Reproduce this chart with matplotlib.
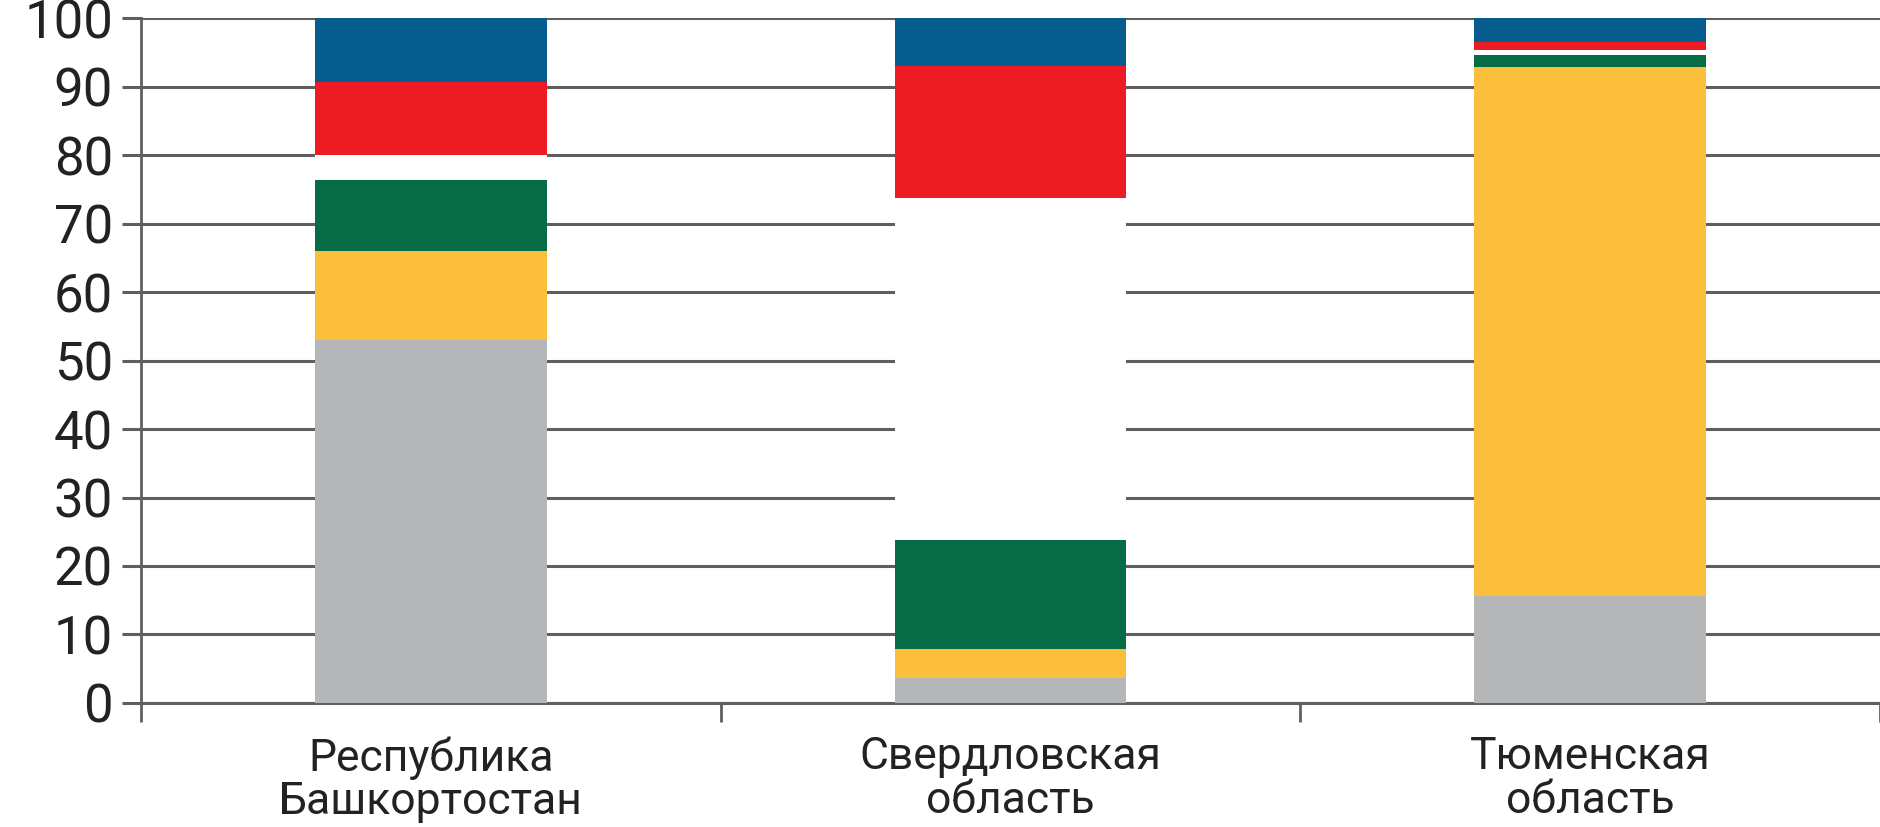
import matplotlib
matplotlib.use('Agg')
import matplotlib.pyplot as plt
import numpy as np

plt.rcParams['font.family'] = ['Roboto', 'DejaVu Sans']

regions = ['Республика\nБашкортостан', 'Свердловская\nобласть', 'Тюменская\nобласть']
# stacked shares, %, bottom to top
grey = [53.0, 3.7, 15.6]
yellow = [13.0, 4.2, 77.2]
green = [10.4, 15.9, 1.8]
other = [3.6, 49.9, 0.7]      # drawn white
red = [10.7, 19.3, 1.2]
blue = [9.3, 7.0, 3.5]

series = [grey, yellow, green, other, red, blue]
colors = ['#b5b6b8', '#fbbf3c', '#056c45', '#ffffff', '#ed1c24', '#045d8c']

fig = plt.figure(figsize=(18.8, 8.27), dpi=100)
ax = fig.add_axes([0.075, 0.15, 0.925, 0.828])

x = np.arange(len(regions))
bottom = np.zeros(len(regions))
for vals, c in zip(series, colors):
    ax.bar(x, vals, bottom=bottom, width=0.40, color=c, zorder=3, linewidth=0)
    bottom += np.array(vals)

ax.set_xlim(-0.5, 2.5)
ax.set_ylim(0, 100)
ax.set_yticks(np.arange(0, 101, 10))
ax.yaxis.grid(True, color='#5f5f5f', linewidth=2.2, zorder=1)
ax.set_axisbelow(True)

for s in ['top', 'right']:
    ax.spines[s].set_visible(False)
ax.spines['left'].set_color('#5f5f5f')
ax.spines['left'].set_linewidth(2)
ax.spines['bottom'].set_color('#5f5f5f')
ax.spines['bottom'].set_linewidth(2.2)

ax.tick_params(axis='y', length=14, width=2.2, color='#5f5f5f', labelsize=38,
               labelcolor='#222222', pad=6)
ax.set_xticks(x)
ax.set_xticklabels(regions, fontsize=32, color='#222222', linespacing=1.05)
ax.tick_params(axis='x', which='major', length=0, pad=24)
ax.set_xticks([-0.5, 0.5, 1.5, 2.5], minor=True)
ax.tick_params(axis='x', which='minor', length=14, width=2, color='#5f5f5f')

fig.savefig('out.png', dpi=100)
